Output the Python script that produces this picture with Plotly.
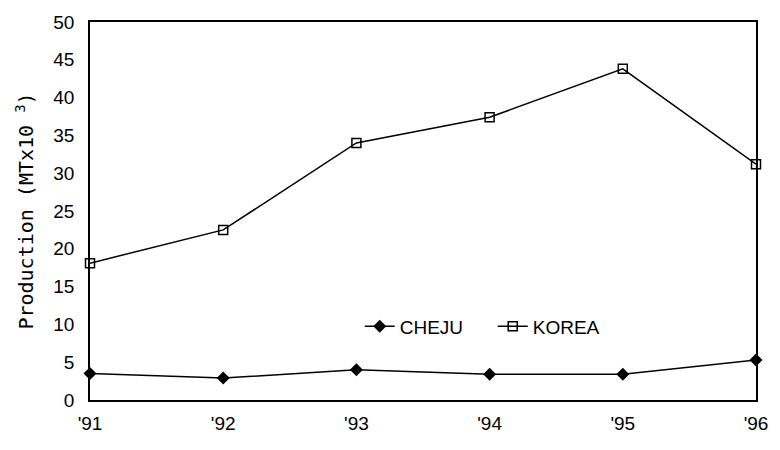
import plotly.graph_objects as go

# Annual production, thousands of metric tons
years = ["'91", "'92", "'93", "'94", "'95", "'96"]
cheju = [3.5, 2.9, 4.0, 3.4, 3.4, 5.3]
korea = [18.1, 22.5, 34.0, 37.4, 43.8, 31.2]
y_ticks = [0, 5, 10, 15, 20, 25, 30, 35, 40, 45, 50]

xpos = list(range(len(years)))
font = dict(family="Liberation Sans, Arial, sans-serif", size=19, color="black")

fig = go.Figure()
fig.add_trace(go.Scatter(
    x=xpos, y=cheju, name="CHEJU", mode="lines+markers",
    line=dict(color="black", width=1.5),
    marker=dict(symbol="diamond", size=10, color="black"),
    cliponaxis=False,
))
fig.add_trace(go.Scatter(
    x=xpos, y=korea, name="KOREA", mode="lines+markers",
    line=dict(color="black", width=1.5),
    marker=dict(symbol="square-open", size=9, color="black", line=dict(width=1.5)),
    cliponaxis=False,
))

fig.update_layout(
    width=780, height=450,
    margin=dict(l=90, r=20, t=15, b=50),
    paper_bgcolor="white", plot_bgcolor="white",
    font=font,
    showlegend=True,
    legend=dict(
        orientation="h", x=0.405, y=0.195, xanchor="left", yanchor="middle",
        bgcolor="rgba(0,0,0,0)", font=dict(size=19),
        entrywidth=88, entrywidthmode="pixels",
    ),
)
fig.update_xaxes(
    range=[0, 5], tickvals=xpos, ticktext=years,
    showgrid=False, zeroline=False,
    showline=True, linecolor="black", linewidth=1.5, mirror=True,
    ticks="", ticklabelstandoff=5,
)
fig.update_yaxes(
    range=[0, 50], tickvals=y_ticks,
    showgrid=False, zeroline=False,
    showline=True, linecolor="black", linewidth=1.5, mirror=True,
    ticks="", ticklabelstandoff=10,
    title=dict(text="Production (MTx10 <sup>3</sup>)", standoff=14,
               font=dict(family="DejaVu Sans Mono, monospace", size=20)),
)

fig.write_html("out.html")
